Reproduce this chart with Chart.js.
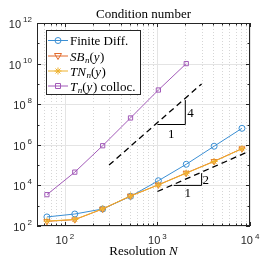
<!DOCTYPE html>
<html>
<head>
<meta charset="utf-8">
<script src="https://cdn.jsdelivr.net/npm/chart.js@4.4.1/dist/chart.umd.min.js"></script>
<style>
html, body { margin: 0; padding: 0; background: #fff; }
#wrap { width: 266px; height: 266px; }
</style>
</head>
<body>
<div id="wrap"><canvas id="c"></canvas></div>
<script>
// resolutions and condition numbers
const N = [64, 128, 256, 512, 1024, 2048, 4096, 8192];
const finiteDiff = [280, 390, 690, 2900, 17000, 110000, 850000, 6.5e6];
const sbN = [170, 205, 690, 3000, 10700, 41000, 155000, 650000];
const tnN = [175, 210, 700, 3000, 10500, 40000, 150000, 640000];
const colloc = [3500, 45000, 9e5, 2.1e7, 5e8, 1e10];

// reference slopes
const slope4X = [300, 3000];
const slope4Y = [1e5, 1e9];
const tri4X = [1000, 2000, 2000];
const tri4Y = [1e7, 1e7, 1.6e8];
const slope2X = [1000, 10000];
const slope2Y = [5e3, 5e5];
const tri2X = [1500, 3000, 3000];
const tri2Y = [1e4, 1e4, 4e4];

const xTickExps = [2, 3, 4];
const yTickExps = [2, 4, 6, 8, 10, 12];

const blue = '#3b8fd4';
const orange = '#e2692a';
const yellow = '#eeb12c';
const purple = '#a25ab8';

const pts = (xs, ys) => ys.map((v, i) => ({x: xs[i], y: v}));

const serif = '"Liberation Serif", "DejaVu Serif", serif';
const sans = '"Liberation Sans", Arial, sans-serif';

function drawRuns(ctx, runs, x, y, size) {
  // runs: [text, style] style: r regular, i italic, s italic subscript
  for (const [t, s] of runs) {
    let f = (s === 'r' ? '' : 'italic ') + (s === 's' ? size * 0.7 : size) + 'px ' + serif;
    ctx.font = f;
    ctx.fillText(t, x, s === 's' ? y + size * 0.22 : y);
    x += ctx.measureText(t).width + (s === 'i' ? 0.5 : 0);
  }
}

function marker(ctx, style, x, y, color) {
  ctx.save();
  ctx.strokeStyle = color;
  ctx.lineWidth = 1;
  ctx.setLineDash([]);
  ctx.beginPath();
  if (style === 'circle') {
    ctx.arc(x, y, 3, 0, Math.PI * 2);
  } else if (style === 'tri') {
    ctx.moveTo(x - 3.5, y - 2.5); ctx.lineTo(x + 3.5, y - 2.5); ctx.lineTo(x, y + 3.5); ctx.closePath();
  } else if (style === 'star') {
    for (let k = 0; k < 4; k++) {
      const a = k * Math.PI / 4;
      ctx.moveTo(x - 3.5 * Math.cos(a), y - 3.5 * Math.sin(a));
      ctx.lineTo(x + 3.5 * Math.cos(a), y + 3.5 * Math.sin(a));
    }
  } else {
    ctx.rect(x - 2.5, y - 2.5, 5, 5);
  }
  ctx.stroke();
  ctx.restore();
}

const decor = {
  id: 'decor',
  beforeDatasetsDraw(chart) {
    const {ctx, chartArea: a, scales: {x, y}} = chart;
    ctx.save();
    ctx.lineWidth = 1;
    // minor vertical grid (dotted)
    ctx.strokeStyle = '#d6d6d6';
    ctx.setLineDash([1, 2]);
    for (let k = 1; k <= 3; k++) {
      for (let m = 2; m <= 9; m++) {
        const v = m * Math.pow(10, k);
        if (v < x.min || v > x.max) continue;
        const px = Math.round(x.getPixelForValue(v)) + 0.5;
        ctx.beginPath(); ctx.moveTo(px, a.top); ctx.lineTo(px, a.bottom); ctx.stroke();
      }
    }
    ctx.setLineDash([]);
    ctx.strokeStyle = '#e4e4e4';
    for (const e of xTickExps) {
      const px = Math.round(x.getPixelForValue(Math.pow(10, e))) + 0.5;
      ctx.beginPath(); ctx.moveTo(px, a.top); ctx.lineTo(px, a.bottom); ctx.stroke();
    }
    for (const e of yTickExps) {
      const py = Math.round(y.getPixelForValue(Math.pow(10, e))) + 0.5;
      ctx.beginPath(); ctx.moveTo(a.left, py); ctx.lineTo(a.right, py); ctx.stroke();
    }
    ctx.restore();
  },
  afterDraw(chart) {
    const {ctx, chartArea: a, scales: {x, y}} = chart;
    ctx.save();
    // box
    ctx.strokeStyle = '#262626';
    ctx.lineWidth = 1;
    ctx.strokeRect(Math.round(a.left) + 0.5, Math.round(a.top) + 0.5,
      Math.round(a.right - a.left) - 1, Math.round(a.bottom - a.top) - 1);
    // inner ticks
    ctx.beginPath();
    for (let k = 1; k <= 4; k++) {
      for (let m = 1; m <= 9; m++) {
        const v = m * Math.pow(10, k);
        if (v < x.min || v > x.max) continue;
        const px = Math.round(x.getPixelForValue(v)) + 0.5;
        const len = m === 1 ? 4 : 2.5;
        ctx.moveTo(px, a.bottom); ctx.lineTo(px, a.bottom - len);
        ctx.moveTo(px, a.top); ctx.lineTo(px, a.top + len);
      }
    }
    for (let e = 2; e <= 12; e++) {
      const py = Math.round(y.getPixelForValue(Math.pow(10, e))) + 0.5;
      const len = e % 2 === 0 ? 4 : 2.5;
      ctx.moveTo(a.left, py); ctx.lineTo(a.left + len, py);
      ctx.moveTo(a.right, py); ctx.lineTo(a.right - len, py);
    }
    ctx.stroke();

    // tick labels
    ctx.fillStyle = '#262626';
    ctx.textBaseline = 'alphabetic';
    for (const e of yTickExps) {
      const py = y.getPixelForValue(Math.pow(10, e));
      ctx.font = '8px ' + sans;
      const we = ctx.measureText(String(e)).width;
      ctx.font = '11px ' + sans;
      const wb = ctx.measureText('10').width;
      const right = 32;
      ctx.textAlign = 'left';
      ctx.fillText('10', right - we - 2 - wb, py + 5);
      ctx.font = '8px ' + sans;
      ctx.fillText(String(e), right - we, py - 1);
    }
    for (const e of xTickExps) {
      const px = x.getPixelForValue(Math.pow(10, e));
      ctx.font = '8px ' + sans;
      const we = ctx.measureText(String(e)).width;
      ctx.font = '11px ' + sans;
      const wb = ctx.measureText('10').width;
      const left = px - (wb + 2 + we) / 2;
      ctx.textAlign = 'left';
      ctx.fillText('10', left, 244);
      ctx.font = '8px ' + sans;
      ctx.fillText(String(e), left + wb + 2, 239);
    }

    // title and axis title
    ctx.fillStyle = '#000';
    ctx.textAlign = 'center';
    ctx.font = '13px ' + serif;
    const cx = (a.left + a.right) / 2;
    ctx.fillText('Condition number', cx, 18);
    ctx.font = '13px ' + serif;
    const w1 = ctx.measureText('Resolution ').width;
    ctx.font = 'italic 13px ' + serif;
    const w2 = ctx.measureText('N').width;
    ctx.textAlign = 'left';
    ctx.font = '13px ' + serif;
    ctx.fillText('Resolution ', cx - (w1 + w2) / 2, 255);
    ctx.font = 'italic 13px ' + serif;
    ctx.fillText('N', cx - (w1 + w2) / 2 + w1, 255);

    // slope labels
    ctx.font = '13px ' + serif;
    ctx.textAlign = 'left';
    ctx.fillText('4', x.getPixelForValue(tri4X[2]) + 2, (y.getPixelForValue(tri4Y[1]) + y.getPixelForValue(tri4Y[2])) / 2 + 5);
    ctx.textAlign = 'center';
    ctx.fillText('1', (x.getPixelForValue(tri4X[0]) + x.getPixelForValue(tri4X[1])) / 2, y.getPixelForValue(tri4Y[0]) + 13);
    ctx.textAlign = 'left';
    ctx.fillText('2', x.getPixelForValue(tri2X[2]) + 1, (y.getPixelForValue(tri2Y[1]) + y.getPixelForValue(tri2Y[2])) / 2 + 5);
    ctx.textAlign = 'center';
    ctx.fillText('1', (x.getPixelForValue(tri2X[0]) + x.getPixelForValue(tri2X[1])) / 2, y.getPixelForValue(tri2Y[0]) + 12);

    // legend
    ctx.fillStyle = '#fff';
    ctx.fillRect(46.5, 30.5, 94, 64);
    ctx.strokeStyle = '#262626';
    ctx.strokeRect(46.5, 30.5, 94, 64);
    const entries = [
      {c: blue, m: 'circle', runs: [['Finite Diff.', 'r']]},
      {c: orange, m: 'tri', runs: [['SB', 'i'], ['n', 's'], ['(', 'r'], ['y', 'i'], [')', 'r']]},
      {c: yellow, m: 'star', runs: [['TN', 'i'], ['n', 's'], ['(', 'r'], ['y', 'i'], [')', 'r']]},
      {c: purple, m: 'square', runs: [['T', 'i'], ['n', 's'], ['(', 'r'], ['y', 'i'], [') colloc.', 'r']]}
    ];
    const rows = [40.5, 56, 71, 86];
    entries.forEach((en, i) => {
      const ry = rows[i];
      ctx.strokeStyle = en.c;
      ctx.lineWidth = 1;
      ctx.beginPath(); ctx.moveTo(48, ry); ctx.lineTo(68, ry); ctx.stroke();
      marker(ctx, en.m, 58, ry, en.c);
      ctx.fillStyle = '#000';
      ctx.textAlign = 'left';
      drawRuns(ctx, en.runs, 70, ry + 4.5, 13);
    });
    ctx.restore();
  }
};

const lineDs = (label, data, color, style, rot, r, ord) => ({
  label, data, borderColor: color, backgroundColor: 'rgba(0,0,0,0)',
  pointBorderColor: color, pointBackgroundColor: 'rgba(0,0,0,0)',
  pointStyle: style, rotation: rot, pointRadius: r, pointBorderWidth: 1,
  borderWidth: 1, showLine: true, tension: 0, order: ord
});

new Chart(document.getElementById('c'), {
  type: 'scatter',
  data: {
    datasets: [
      lineDs('Finite Diff.', pts(N, finiteDiff), blue, 'circle', 0, 3, 5),
      lineDs('SBn(y)', pts(N, sbN), orange, 'triangle', 180, 3.5, 4),
      lineDs('TNn(y)', pts(N, tnN), yellow, 'star', 0, 3.5, 3),
      lineDs('Tn(y) colloc.', pts(N, colloc), purple, 'rect', 0, 3, 2),
      {data: pts(slope4X, slope4Y), borderColor: '#000', borderWidth: 1.3, borderDash: [6, 4], showLine: true, pointRadius: 0, order: 1},
      {data: pts(slope2X, slope2Y), borderColor: '#000', borderWidth: 1.3, borderDash: [6, 4], showLine: true, pointRadius: 0, order: 1},
      {data: pts(tri4X, tri4Y), borderColor: '#000', borderWidth: 1, showLine: true, pointRadius: 0, order: 1},
      {data: pts(tri2X, tri2Y), borderColor: '#000', borderWidth: 1, showLine: true, pointRadius: 0, order: 1}
    ]
  },
  options: {
    responsive: true,
    maintainAspectRatio: false,
    animation: false,
    events: [],
    layout: {padding: {left: 37, right: 16, top: 23, bottom: 40}},
    plugins: {legend: {display: false}, tooltip: {enabled: false}, title: {display: false}},
    scales: {
      x: {type: 'logarithmic', min: 50, max: 10000, display: false},
      y: {type: 'logarithmic', min: 1e2, max: 1e12, display: false}
    }
  },
  plugins: [decor]
});
</script>
</body>
</html>
